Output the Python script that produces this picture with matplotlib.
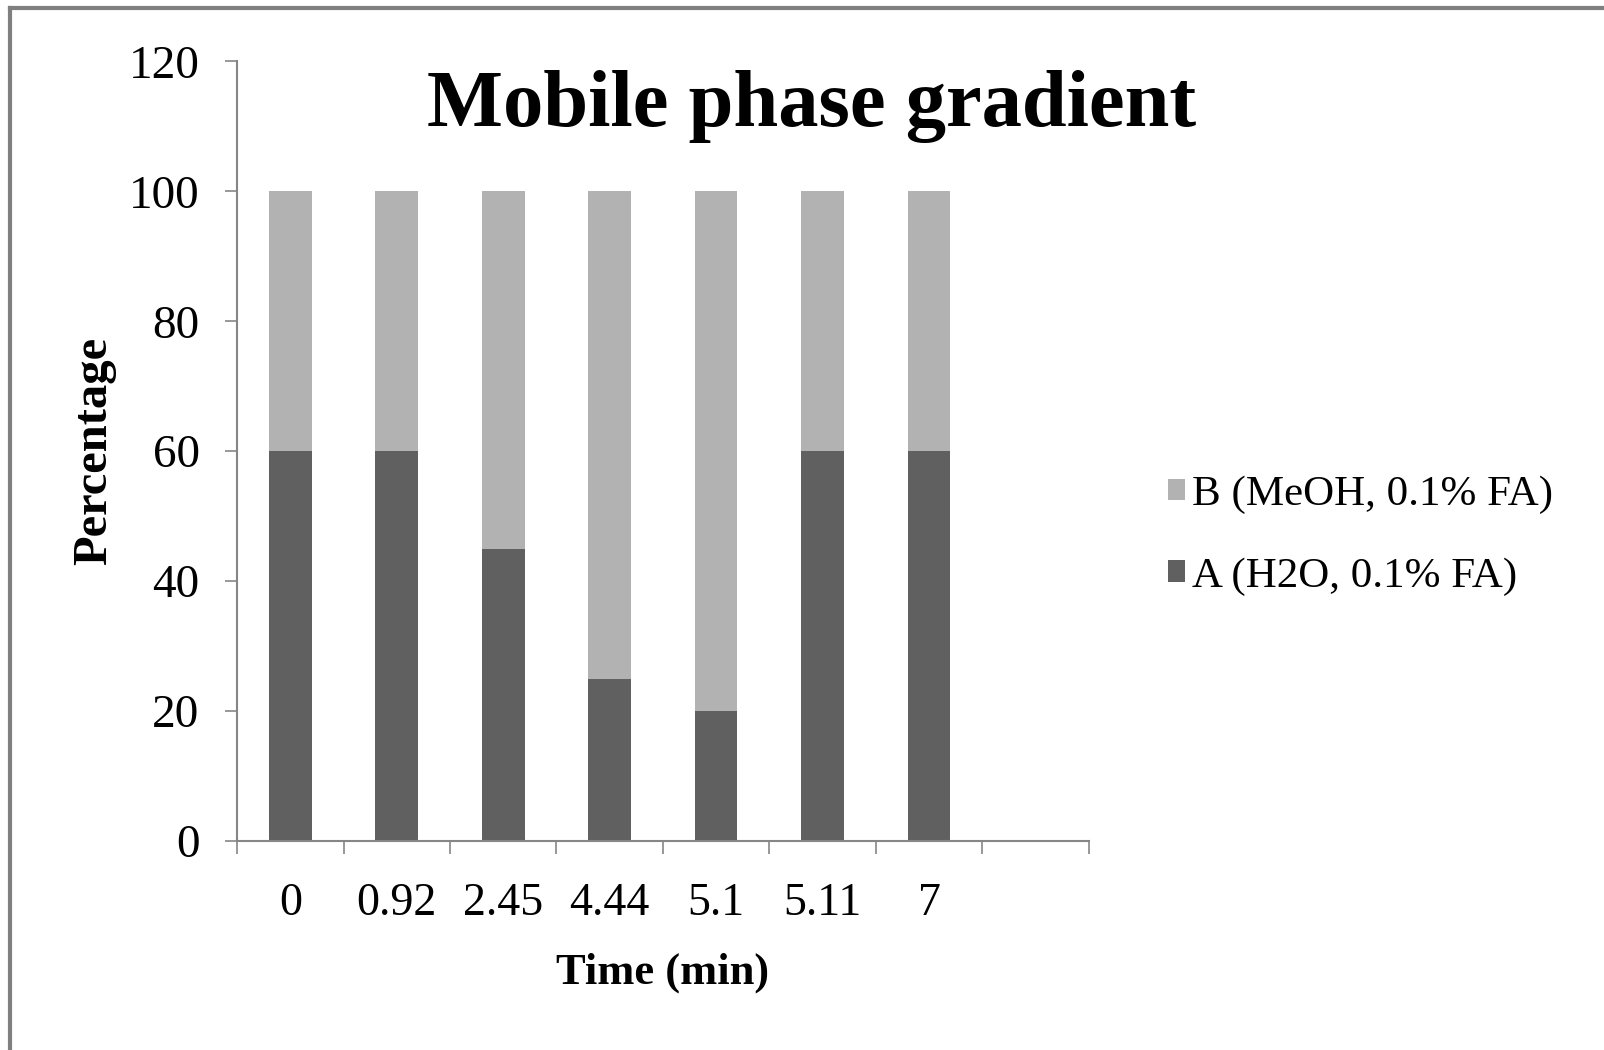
from matplotlib import pyplot as plt
from matplotlib.lines import Line2D
import numpy as np

# data
times = ["0", "0.92", "2.45", "4.44", "5.1", "5.11", "7"]
solventA = [60, 60, 45, 25, 20, 60, 60]
solventB = [40, 40, 55, 75, 80, 40, 40]
labelA = "A (H2O, 0.1% FA)"
labelB = "B (MeOH, 0.1% FA)"

plt.rcParams['font.family'] = ['Liberation Serif', 'DejaVu Serif']

fig = plt.figure(figsize=(16.04, 10.50), dpi=100)
ax = fig.add_axes([0.1478, 0.199, 0.531, 0.7425])

x = np.arange(len(times)) + 0.5
barA = ax.bar(x, solventA, width=0.4, color='#606060', label=labelA)
barB = ax.bar(x, solventB, width=0.4, bottom=solventA, color='#b2b2b2', label=labelB)

ax.set_xlim(0, len(times) + 1)
ax.set_ylim(0, 120)
ax.set_yticks(np.arange(0, 121, 20))
ax.set_xticks(np.arange(0, len(times) + 2))
ax.set_xticklabels([])
ax.set_xticks(x, minor=True)
ax.set_xticklabels(times, minor=True)

for s in ['top', 'right']:
    ax.spines[s].set_visible(False)
for s in ['left', 'bottom']:
    ax.spines[s].set_color('#868686')
    ax.spines[s].set_linewidth(1.5)

ax.tick_params(axis='y', which='major', length=9, width=1.2, color='#868686',
               labelsize=34, pad=18)
ax.tick_params(axis='x', which='major', length=9, width=1.2, color='#868686')
ax.tick_params(axis='x', which='minor', length=0, labelsize=33, pad=30)

ax.set_xlabel("Time (min)", fontsize=32, fontweight='bold', labelpad=20)
ax.set_ylabel("Percentage", fontsize=35, fontweight='bold', labelpad=9)
fig.text(0.506, 0.899, "Mobile phase gradient", fontsize=58, fontweight='bold',
         ha='center', va='center')

leg = fig.legend(handles=[barB, barA], loc='center left',
                 bbox_to_anchor=(0.704, 0.49), frameon=False, fontsize=31,
                 handlelength=0.4, handleheight=0.4, handletextpad=0.15,
                 labelspacing=1.0)

# outer border (top and left only)
fig.add_artist(Line2D([0.006, 0.006], [0.0, 0.9925], transform=fig.transFigure,
                      color='#808080', linewidth=3))
fig.add_artist(Line2D([0.006, 1.0], [0.9925, 0.9925], transform=fig.transFigure,
                      color='#808080', linewidth=3))

fig.savefig('out.png', dpi=100)
